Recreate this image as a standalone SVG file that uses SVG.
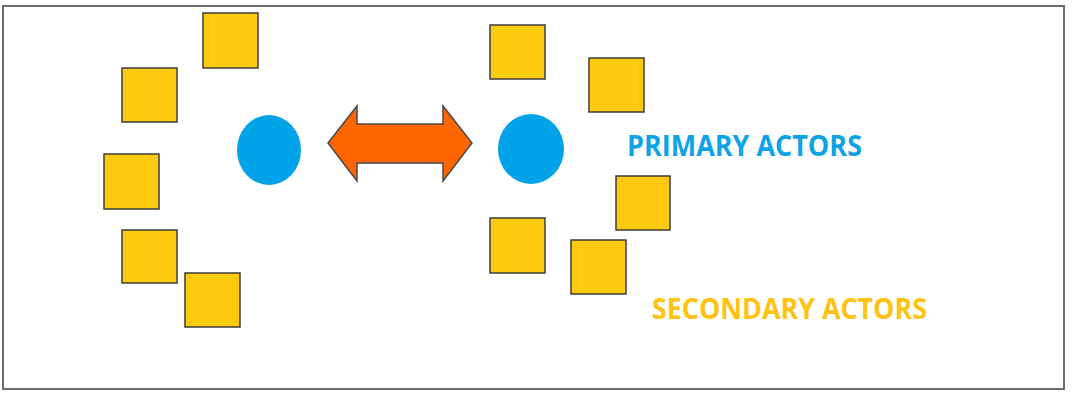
<svg xmlns="http://www.w3.org/2000/svg" width="1074" height="394" viewBox="0 0 1074 394">
  <style>
    .frame { fill: #ffffff; stroke: #6b6b6b; stroke-width: 2; }
    .actor2 { fill: #ffc90e; stroke: #3c3c3c; stroke-width: 1.5; }
    .actor1 { fill: #00a2e8; }
    .link { fill: #ff6600; stroke: #4a4a4a; stroke-width: 1.5; stroke-linejoin: miter; }
    .label { font-family: "Open Sans", "Liberation Sans", sans-serif; font-weight: bold; font-size: 28px; }
    .primary { fill: #0ea2e6; }
    .secondary { fill: #ffc20e; }
  </style>

  <rect class="frame" x="3" y="6" width="1061" height="383"/>

  <!-- left cluster -->
  <g id="left-secondary-1"><rect class="actor2" x="203" y="13" width="55" height="55"/></g>
  <g id="left-secondary-2"><rect class="actor2" x="122" y="68" width="55" height="54"/></g>
  <g id="left-secondary-3"><rect class="actor2" x="104" y="154" width="55" height="55"/></g>
  <g id="left-secondary-4"><rect class="actor2" x="122" y="230" width="55" height="53"/></g>
  <g id="left-secondary-5"><rect class="actor2" x="185" y="273" width="55" height="54"/></g>
  <g id="left-primary"><ellipse class="actor1" cx="269" cy="150" rx="32" ry="35"/></g>

  <!-- right cluster -->
  <g id="right-secondary-1"><rect class="actor2" x="490" y="25" width="55" height="54"/></g>
  <g id="right-secondary-2"><rect class="actor2" x="589" y="58" width="55" height="54"/></g>
  <g id="right-secondary-3"><rect class="actor2" x="616" y="176" width="54" height="54"/></g>
  <g id="right-secondary-4"><rect class="actor2" x="490" y="218" width="55" height="55"/></g>
  <g id="right-secondary-5"><rect class="actor2" x="571" y="240" width="55" height="54"/></g>
  <g id="right-primary"><ellipse class="actor1" cx="531" cy="149" rx="33" ry="35"/></g>

  <!-- interaction between the two primary actors -->
  <g id="connectors">
    <polygon class="link" points="328,143 357,106 357,124 443,124 443,106 472,143 443,181 443,163 357,163 357,181"/>
  </g>

  <!-- legend -->
  <g id="legend-primary">
    <text class="label primary" x="627" y="156" textLength="235" lengthAdjust="spacingAndGlyphs">PRIMARY ACTORS</text>
  </g>
  <g id="legend-secondary">
    <text class="label secondary" x="652" y="319" textLength="275" lengthAdjust="spacingAndGlyphs">SECONDARY ACTORS</text>
  </g>
</svg>
